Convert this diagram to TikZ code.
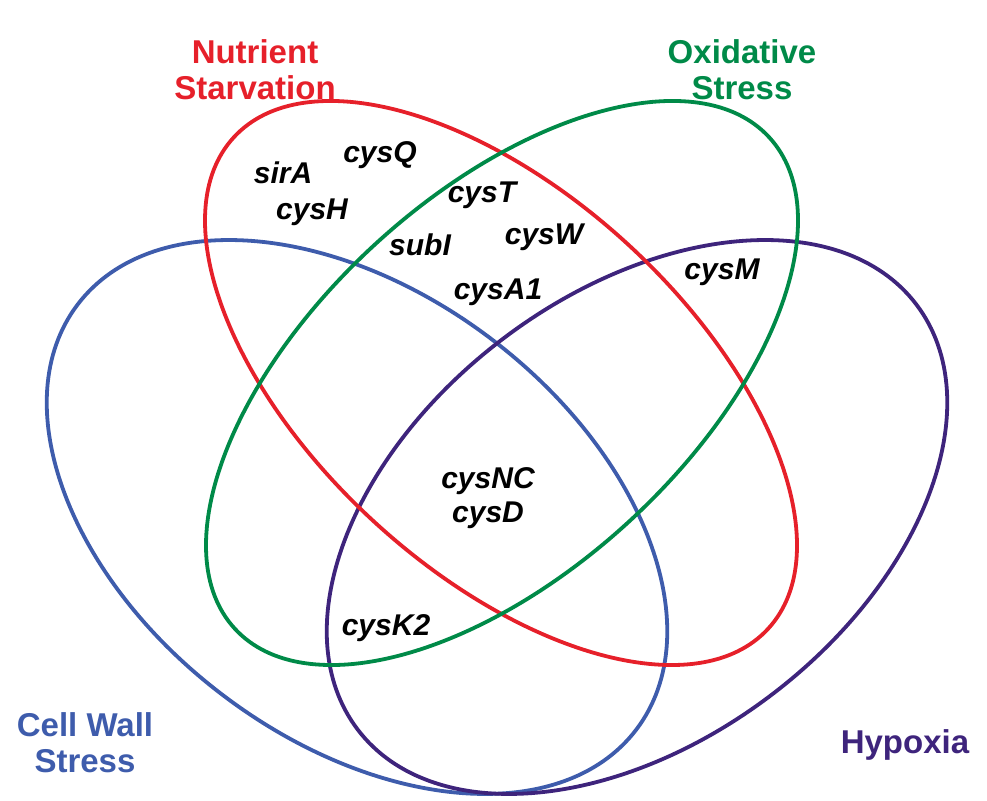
\documentclass[tikz,border=0pt]{standalone}
\usepackage{fontspec}
\setmainfont{Liberation Sans}
\definecolor{cred}{RGB}{230,32,42}
\definecolor{cgreen}{RGB}{0,138,72}
\definecolor{cblue}{RGB}{62,92,172}
\definecolor{cpurple}{RGB}{62,36,124}
\begin{document}
\begin{tikzpicture}[x=1pt,y=1pt,
  ell/.style={line width=3.8pt},
  title/.style={font=\fontsize{33}{36}\selectfont\bfseries,align=center},
  gene/.style={font=\fontsize{30}{34}\selectfont\bfseries\itshape,align=center}]
\useasboundingbox (0,0) rectangle (987,800);
\draw[ell,cblue] (357,283) ellipse[x radius=351,y radius=223,rotate=-37.3];
\draw[ell,cpurple] (637,283) ellipse[x radius=351,y radius=223,rotate=37.3];
\draw[ell,cred] (501,417) ellipse[x radius=363,y radius=188,rotate=-42.6];
\draw[ell,cgreen] (502,417) ellipse[x radius=363,y radius=188,rotate=42.6];
\node[title,text=cred] (ns) at (255,730) {Nutrient\\Starvation};
\node[title,text=cgreen] (os) at (742,730) {Oxidative\\Stress};
\node[title,text=cblue] (cw) at (85,57) {Cell Wall\\Stress};
\node[title,text=cpurple] (hy) at (905,55) {Hypoxia};
\node[gene] (g1) at (283,627) {sirA};
\node[gene] (g2) at (380,645) {cysQ};
\node[gene] (g3) at (312,588) {cysH};
\node[gene] (g4) at (482,605) {cysT};
\node[gene] (g5) at (420,555) {subI};
\node[gene] (g6) at (544,563) {cysW};
\node[gene] (g7) at (498,508) {cysA1};
\node[gene] (g8) at (722,528) {cysM};
\node[gene] (g9) at (488,302) {cysNC\\cysD};
\node[gene] (g10) at (386,172) {cysK2};
\end{tikzpicture}
\end{document}
